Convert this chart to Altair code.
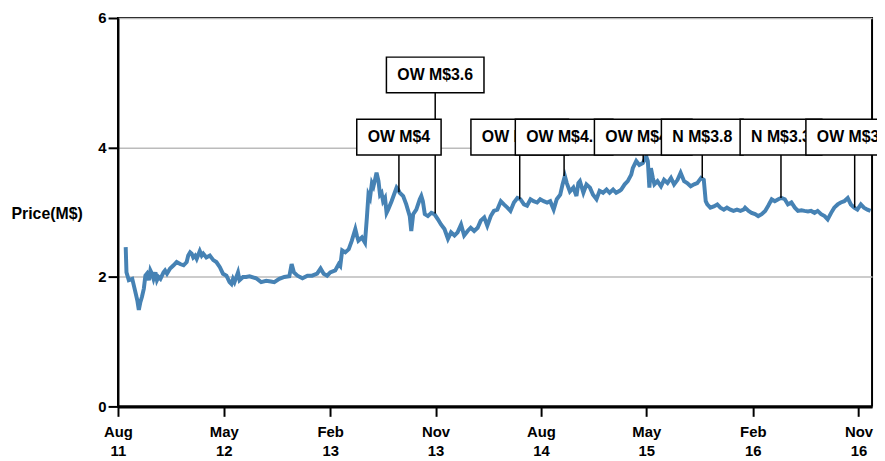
import altair as alt
import pandas as pd

START = "2011-08-01"
DOMAIN_END = "2016-12-06"

day_offsets = [
    20, 22, 28, 37, 43, 50, 54, 58, 62, 67, 71, 75, 80, 84, 88, 92, 97, 101, 105, 110,
    118, 122, 127, 135, 144, 152, 161, 170, 178, 182, 187, 191, 195, 200, 204, 212, 217, 221, 229, 238,
    247, 255, 264, 272, 281, 289, 294, 298, 302, 311, 315, 324, 332,
    341, 358, 371, 384, 396, 405, 418, 431, 444, 450, 456, 465, 478, 491, 503, 516, 525, 533, 542,
    550, 563, 572, 576, 581, 589, 598, 606, 615, 619, 623, 632, 640,
    645, 649, 653, 658, 662, 666, 670, 675, 679, 683, 687, 692, 696, 700, 709, 717, 722, 726, 730, 739,
    747, 756, 760, 765, 773, 782, 786, 790, 795, 803, 812, 820, 829, 837, 846, 855, 863, 872, 880, 889,
    897, 906, 914, 923, 932, 940, 949, 957, 966, 974,
    983, 992, 1000, 1009, 1017, 1026, 1035, 1043, 1052, 1060, 1069, 1077, 1086, 1094, 1103, 1112, 1120, 1129, 1137, 1146,
    1152, 1158, 1163, 1171, 1180, 1188, 1193, 1197, 1206, 1214, 1223, 1231, 1240, 1248, 1257, 1266, 1274, 1283, 1291, 1300,
    1304, 1313, 1321, 1330, 1334, 1343, 1351, 1360, 1369, 1373, 1377, 1381, 1386, 1390, 1398, 1407, 1415, 1424, 1433, 1441,
    1450, 1458, 1467, 1475, 1484, 1493, 1501, 1511, 1518, 1523, 1527, 1535, 1544, 1553, 1561, 1570, 1578, 1587, 1595, 1604,
    1613, 1621,
    1625, 1634, 1642, 1651, 1659, 1668, 1677, 1685, 1694, 1702, 1711, 1719, 1728, 1736, 1745, 1754, 1762, 1771, 1779, 1788,
    1796, 1805, 1813, 1822, 1831, 1839, 1848, 1856, 1865, 1873, 1882, 1891, 1899, 1908, 1916, 1925, 1933, 1942, 1950,
]

prices = [
    2.46, 2.07, 1.95, 1.97, 1.82, 1.64, 1.49, 1.61, 1.69, 1.82, 2.02, 2.05, 1.95, 2.10, 2.05, 1.97, 2.07, 1.95, 2.00, 1.97,
    2.07, 2.10, 2.05, 2.13, 2.18, 2.23, 2.20, 2.18, 2.23, 2.33, 2.38, 2.36, 2.30, 2.33, 2.28, 2.40, 2.33, 2.36, 2.30, 2.33,
    2.26, 2.23, 2.15, 2.05, 2.02, 1.92, 1.89, 1.97, 1.92, 2.07, 1.95, 2.00, 2.00,
    2.01, 1.98, 1.92, 1.94, 1.93, 1.92, 1.97, 2.00, 2.01, 2.20, 2.07, 2.02, 1.98, 2.02, 2.02, 2.05, 2.13, 2.05, 2.02,
    2.07, 2.10, 2.20, 2.17, 2.41, 2.38, 2.43, 2.56, 2.74, 2.64, 2.56, 2.61, 2.53,
    2.92, 3.27, 3.22, 3.45, 3.40, 3.50, 3.61, 3.48, 3.27, 3.30, 3.17, 3.22, 2.99, 3.04, 3.17, 3.30, 3.38, 3.35, 3.30, 3.25,
    3.12, 2.94, 2.71, 2.97, 3.04, 3.20, 3.25, 3.17, 2.97, 2.94, 2.99, 2.97, 2.89, 2.81, 2.74, 2.59, 2.69, 2.64, 2.69, 2.81,
    2.64, 2.71, 2.76, 2.71, 2.76, 2.87, 2.92, 2.79, 2.94, 3.02,
    3.04, 3.17, 3.12, 3.07, 3.02, 3.15, 3.22, 3.20, 3.12, 3.10, 3.20, 3.17, 3.15, 3.20, 3.17, 3.15, 3.17, 3.04, 3.20, 3.27,
    3.43, 3.56, 3.45, 3.32, 3.38, 3.25, 3.45, 3.48, 3.30, 3.43, 3.38, 3.27, 3.20, 3.33, 3.30, 3.35, 3.30, 3.35, 3.30, 3.33,
    3.35, 3.43, 3.48, 3.58, 3.68, 3.79, 3.73, 3.76, 3.86, 3.79, 3.38, 3.68, 3.53, 3.43, 3.48, 3.40, 3.50, 3.45, 3.53, 3.43,
    3.50, 3.61, 3.48, 3.45, 3.40, 3.43, 3.45, 3.53, 3.50, 3.17, 3.12, 3.07, 3.09, 3.12, 3.07, 3.04, 3.07, 3.04, 3.02, 3.04,
    3.02, 3.04,
    3.07, 3.02, 2.99, 2.97, 2.94, 2.97, 3.02, 3.10, 3.20, 3.17, 3.20, 3.22, 3.20, 3.12, 3.15, 3.07, 3.02, 3.03, 3.02, 3.01,
    3.02, 2.99, 3.02, 2.97, 2.94, 2.89, 2.99, 3.07, 3.12, 3.15, 3.17, 3.22, 3.12, 3.07, 3.04, 3.12, 3.07, 3.04, 3.02,
]

ann_days = [728, 822, 1041, 1156, 1361, 1514, 1718, 1909]
ann_prices = [3.31, 2.98, 3.20, 3.56, 3.77, 3.53, 3.22, 3.07]
ann_labels = ["OW M$4", "OW M$3.6", "OW M$3.5", "OW M$4.1", "OW M$4.2", "N M$3.8", "N M$3.3", "OW M$3.5"]
ann_levels = [4.16, 5.12, 4.16, 4.16, 4.16, 4.16, 4.16, 4.16]

x_tick_dates = ["2011-08-01", "2012-05-01", "2013-02-01", "2013-11-01",
                "2014-08-01", "2015-05-01", "2016-02-01", "2016-11-01"]
y_ticks = [0, 2, 4, 6]

FONT = "Liberation Sans"
ANN_FS = 16
BOX_PAD = 11
BOX_H = 36
CHAR_W = {"O": 0.778, "W": 0.944, " ": 0.278, "M": 0.833, "$": 0.556, ".": 0.278, "N": 0.722}


def text_width(s):
    return sum(CHAR_W.get(c, 0.556) for c in s) * ANN_FS


def ms(ts):
    return int(pd.Timestamp(ts).value // 10**6)


base = pd.Timestamp(START)
df = pd.DataFrame({
    "t": [ms(base + pd.Timedelta(days=d)) for d in day_offsets],
    "price": prices,
})
ann = pd.DataFrame({
    "idx": list(range(len(ann_days))),
    "t": [ms(base + pd.Timedelta(days=d)) for d in ann_days],
    "pt": ann_prices,
    "level": ann_levels,
    "label": ann_labels,
})

x_scale = alt.Scale(type="utc", domain=[ms(START), ms(DOMAIN_END)], nice=False, padding=0)
y_scale = alt.Scale(domain=[0, 6], nice=False, padding=0)

x_axis = alt.Axis(
    values=[ms(d) for d in x_tick_dates],
    labelExpr="[utcFormat(datum.value, '%b'), utcFormat(datum.value, '%y')]",
    labelFont=FONT, labelFontSize=15, labelFontWeight="bold", labelColor="black",
    labelLineHeight=20, labelPadding=8, labelFlush=False,
    tickSize=10, tickWidth=2, tickColor="black",
    domainColor="black", domainWidth=3, grid=False, title=None,
)
y_axis = alt.Axis(
    values=y_ticks, format="d",
    labelFont=FONT, labelFontSize=15, labelFontWeight="bold", labelColor="black",
    labelPadding=2, tickSize=10, tickWidth=2, tickColor="black",
    domainColor="black", domainWidth=2,
    grid=True, gridColor="#bbbbbb", gridWidth=1.5,
    title="Price(M$)", titleFont=FONT, titleFontSize=16, titleFontWeight="bold", titleColor="black",
    titleAngle=0, titleAlign="center", titleBaseline="middle", titleX=-72, titleY=197,
)

YT = "Price(M$)"

line = alt.Chart(df).mark_line(color="steelblue", strokeWidth=4).encode(
    x=alt.X("t:Q", scale=x_scale, axis=x_axis),
    y=alt.Y("price:Q", scale=y_scale, axis=y_axis),
)

rules = alt.Chart(ann).mark_rule(color="black", strokeWidth=1.5).encode(
    x=alt.X("t:Q", scale=x_scale, title=None),
    y=alt.Y("pt:Q", scale=y_scale, title=YT),
    y2="level:Q",
)

layers = [line, rules]
for i, lab in enumerate(ann_labels):
    w = text_width(lab) + 2 * BOX_PAD
    sub = alt.Chart(ann).transform_filter(alt.datum.idx == i)
    box = sub.mark_rect(
        fill="white", stroke="black", strokeWidth=1.5,
        xOffset=-w / 2, x2Offset=w / 2, yOffset=-BOX_H / 2, y2Offset=BOX_H / 2,
    ).encode(
        x=alt.X("t:Q", scale=x_scale, title=None), x2="t:Q",
        y=alt.Y("level:Q", scale=y_scale, title=YT), y2="level:Q",
    )
    txt = sub.mark_text(
        font=FONT, fontSize=ANN_FS, fontWeight="bold", color="black",
        align="center", baseline="middle",
    ).encode(
        x=alt.X("t:Q", scale=x_scale, title=None),
        y=alt.Y("level:Q", scale=y_scale, title=YT),
        text="label:N",
    )
    layers += [box, txt]

chart = alt.layer(*layers).properties(
    width=761, height=392,
    padding={"left": 111, "top": 8, "right": 5, "bottom": 53},
    autosize=alt.AutoSizeParams(type="none"),
).configure_view(stroke="black", strokeWidth=2)

chart.save("out.html", embed_options={"renderer": "svg", "actions": False})
